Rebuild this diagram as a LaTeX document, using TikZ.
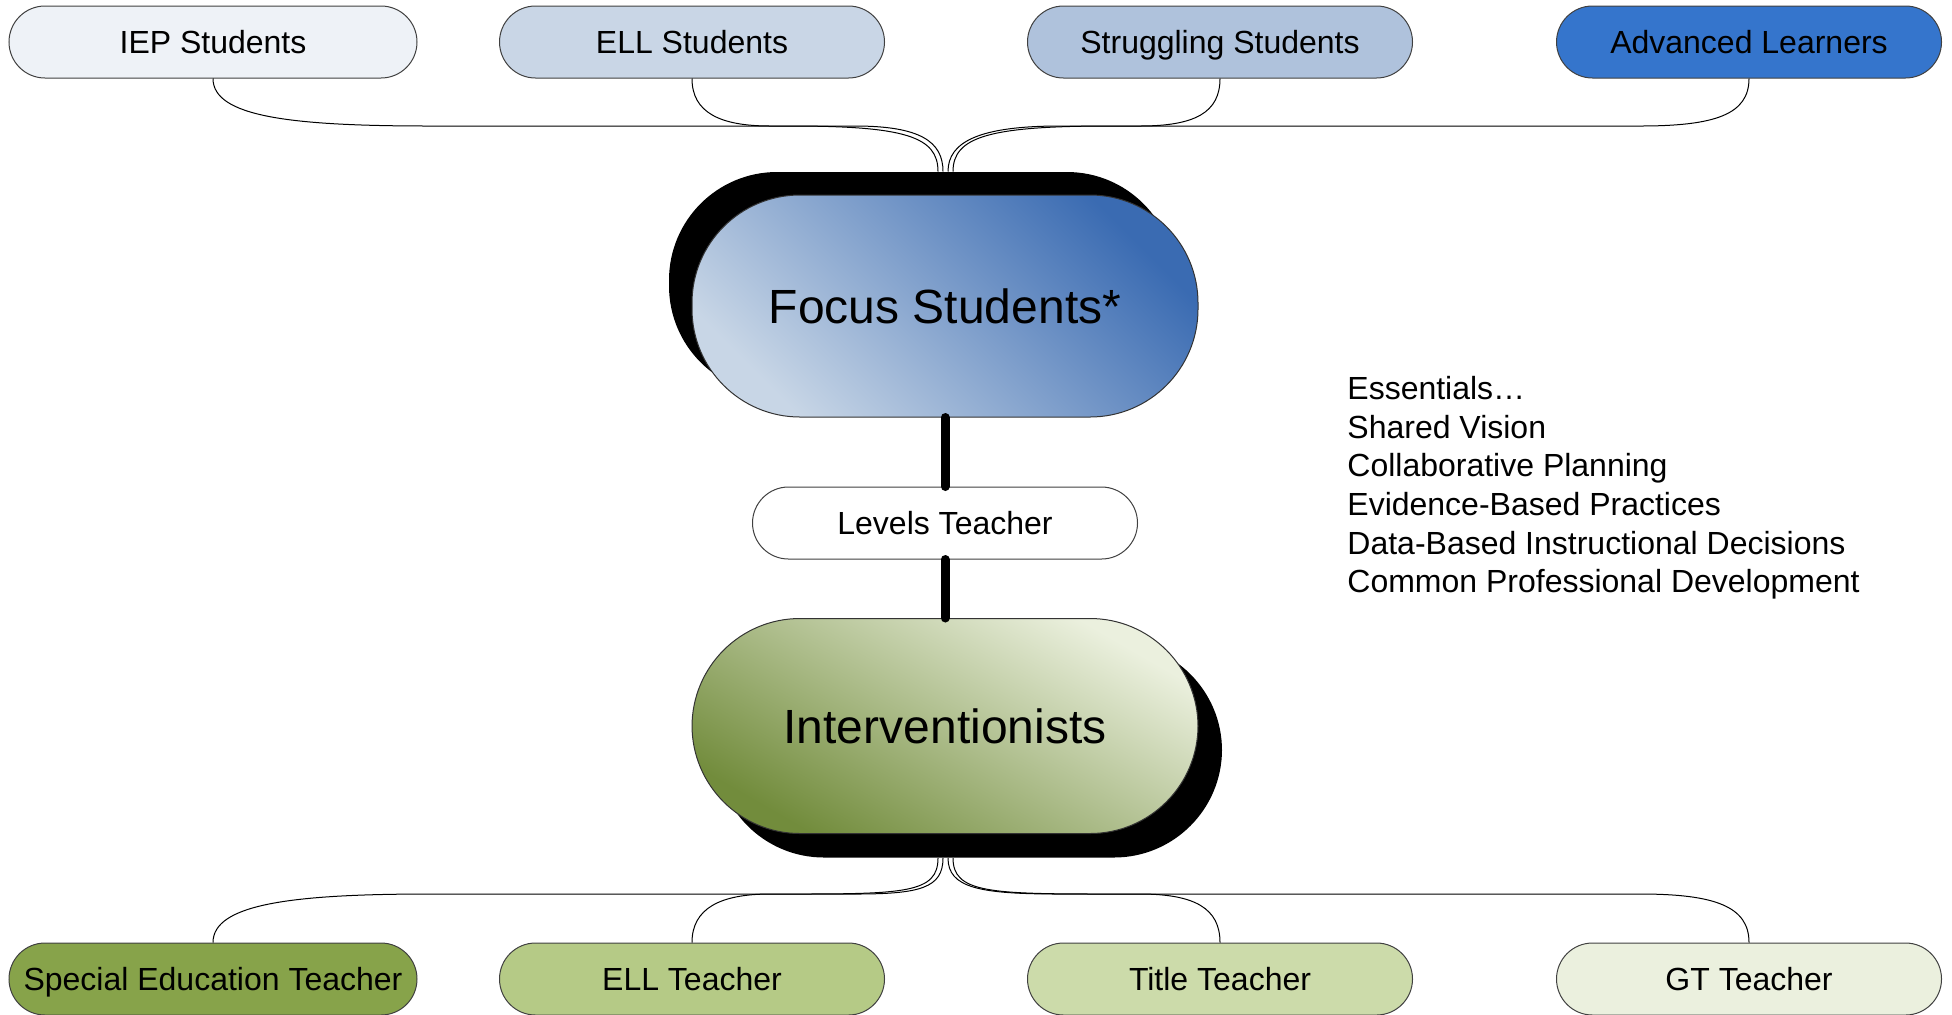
\documentclass[tikz,border=0pt]{standalone}
\usepackage{fontspec}
\setmainfont{Liberation Sans}
\usetikzlibrary{shadows}
\definecolor{iepc}{HTML}{EEF2F7}
\definecolor{ellc}{HTML}{C9D6E6}
\definecolor{strc}{HTML}{AFC2DC}
\definecolor{advc}{HTML}{3575CC}
\definecolor{sedc}{HTML}{87A34A}
\definecolor{eltc}{HTML}{B5CA86}
\definecolor{titc}{HTML}{CCDBAA}
\definecolor{gtc}{HTML}{EBF0DE}
\definecolor{focdark}{HTML}{3A6BB2}
\definecolor{focmid}{HTML}{A7BCDA}
\definecolor{foclight}{HTML}{C8D6E6}
\definecolor{intdark}{HTML}{728C3C}
\definecolor{intmid}{HTML}{C6D3AC}
\definecolor{intlight}{HTML}{EBF0DE}
\begin{document}
\begin{tikzpicture}[x=0.5pt,y=-0.5pt,
  pill/.style={draw=black!75, line width=0.5pt, rounded corners=18pt,
    minimum width=192.5pt, minimum height=36pt, inner sep=0pt,
    text height=11.5pt, text depth=0pt,
    font=\fontsize{16}{19}\selectfont},
  bigpill/.style={draw=black!80, line width=0.5pt, rounded corners=54pt,
    minimum width=253pt, inner sep=0pt, text height=17.2pt, text depth=0pt,
    font=\fontsize{24}{28}\selectfont},
  link/.style={line width=0.5pt, black},
  stem/.style={line width=4.5pt, line cap=round, black}]
\useasboundingbox (0,0) rectangle (1952,1014);

% top row
\node[pill, fill=iepc, minimum width=204pt] (iep) at (213,42) {IEP Students};
\node[pill, fill=ellc] (ells) at (692,42) {ELL Students};
\node[pill, fill=strc] (strs) at (1220,42) {Struggling Students};
\node[pill, fill=advc] (adv) at (1749,42) {Advanced Learners};

% bottom row
\node[pill, fill=sedc, minimum width=204pt] (sped) at (213,979) {Special Education Teacher};
\node[pill, fill=eltc] (ellt) at (692,979) {ELL Teacher};
\node[pill, fill=titc] (titt) at (1220,979) {Title Teacher};
\node[pill, fill=gtc] (gtt) at (1749,979) {GT Teacher};

% central nodes
\node[bigpill, minimum height=111pt,
  top color=focdark, middle color=focmid, bottom color=foclight, shading angle=-45,
  drop shadow={shadow xshift=-11.5pt, shadow yshift=11.5pt, opacity=1, fill=black}]
  (focus) at (945,306) {Focus Students*};
\node[pill, fill=white] (levels) at (945,523) {Levels Teacher};
\node[bigpill, minimum height=107.5pt,
  top color=intlight, middle color=intmid, bottom color=intdark, shading angle=-30,
  drop shadow={shadow xshift=12pt, shadow yshift=-12pt, opacity=1, fill=black}]
  (inter) at (945,726) {Interventionists};

% essentials
\node[anchor=north west, align=left, inner sep=0pt,
  font=\fontsize{16}{19.3}\selectfont] (ess) at (1347,376)
  {Essentials…\\Shared Vision\\Collaborative Planning\\Evidence-Based Practices\\Data-Based Instructional Decisions\\Common Professional Development};

% connector end points
\coordinate (fa) at ([shift={(-7,-23)}]focus.north);
\coordinate (fb) at ([shift={(-2,-23)}]focus.north);
\coordinate (fc) at ([shift={(3,-23)}]focus.north);
\coordinate (fd) at ([shift={(8,-23)}]focus.north);
\coordinate (ia) at ([shift={(-7,24)}]inter.south);
\coordinate (ib) at ([shift={(-2,24)}]inter.south);
\coordinate (ic) at ([shift={(3,24)}]inter.south);
\coordinate (id) at ([shift={(8,24)}]inter.south);

\coordinate (t1m) at (430,126); \coordinate (t1n) at (790,126);
\coordinate (t2m) at (770,126); \coordinate (t2n) at (855,126);
\coordinate (t3m) at (1140,126); \coordinate (t3n) at (1060,126);
\coordinate (t4m) at (1640,126); \coordinate (t4n) at (1110,126);
\coordinate (b1m) at (430,894); \coordinate (b1n) at (790,894);
\coordinate (b2m) at (770,894); \coordinate (b2n) at (855,894);
\coordinate (b3m) at (1140,894); \coordinate (b3n) at (1060,894);
\coordinate (b4m) at (1640,894); \coordinate (b4n) at (1110,894);

% top connectors
\draw[link] (iep.south) .. controls +(0,38) and +(-140,0) .. (t1m) -- (t1n) .. controls +(115,0) and +(0,-35) .. (fa);
\draw[link] (ells.south) .. controls +(0,34) and +(-50,0) .. (t2m) -- (t2n) .. controls +(65,0) and +(0,-30) .. (fb);
\draw[link] (strs.south) .. controls +(0,34) and +(55,0) .. (t3m) -- (t3n) .. controls +(-80,0) and +(0,-30) .. (fc);
\draw[link] (adv.south) .. controls +(0,36) and +(75,0) .. (t4m) -- (t4n) .. controls +(-120,0) and +(0,-35) .. (fd);

% bottom connectors
\draw[link] (ia) .. controls +(0,35) and +(115,0) .. (b1n) -- (b1m) .. controls +(-140,0) and +(0,-38) .. (sped.north);
\draw[link] (ib) .. controls +(0,30) and +(65,0) .. (b2n) -- (b2m) .. controls +(-50,0) and +(0,-34) .. (ellt.north);
\draw[link] (ic) .. controls +(0,30) and +(-80,0) .. (b3n) -- (b3m) .. controls +(55,0) and +(0,-34) .. (titt.north);
\draw[link] (id) .. controls +(0,35) and +(-120,0) .. (b4n) -- (b4m) .. controls +(75,0) and +(0,-36) .. (gtt.north);

% thick stems
\draw[stem] (focus.south) -- (levels.north);
\draw[stem] (levels.south) -- (inter.north);
\end{tikzpicture}
\end{document}
